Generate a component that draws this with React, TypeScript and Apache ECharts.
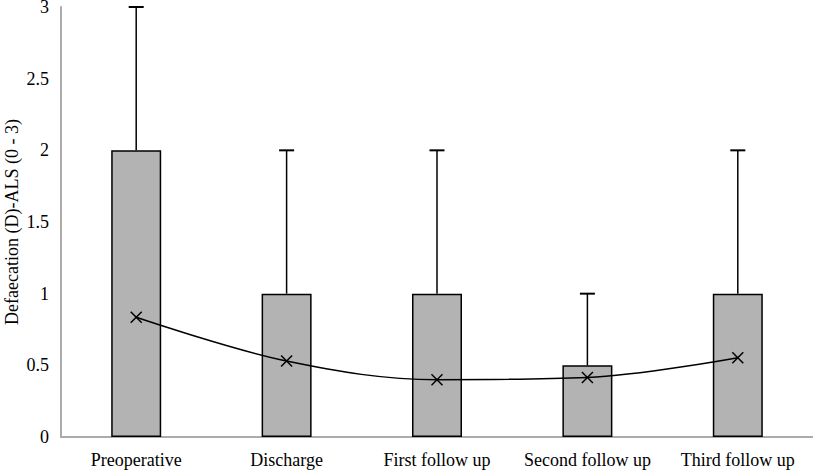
import React, { useEffect, useRef } from "react";
import * as echarts from "echarts";

const categories = ["Preoperative", "Discharge", "First follow up", "Second follow up", "Third follow up"];
const barValues = [2, 1, 1, 0.5, 1];
const errorUpper = [3, 2, 2, 1, 2];
const meanValues = [0.835, 0.53, 0.4, 0.415, 0.553];
const yTicks = { min: 0, max: 3, interval: 0.5 };

const FONT = "Liberation Serif";

export default function App() {
  const ref = useRef<HTMLDivElement>(null);
  useEffect(() => {
    if (!ref.current) return;
    const chart = echarts.init(ref.current, null, { renderer: "svg" });
    chart.setOption({
      animation: false,
      textStyle: { fontFamily: FONT },
      grid: { left: 61, right: 0, top: 7, bottom: 35, containLabel: false, outerBoundsMode: "none" },
      xAxis: {
        type: "category",
        data: categories,
        axisLine: { show: true, lineStyle: { color: "#ababab", width: 2 } },
        axisTick: { show: false },
        axisLabel: { color: "#000", fontFamily: FONT, fontSize: 18, margin: 14, interval: 0 },
      },
      yAxis: {
        type: "value",
        min: yTicks.min,
        max: yTicks.max,
        interval: yTicks.interval,
        name: "Defaecation (D)-ALS (0 - 3)",
        nameLocation: "middle",
        nameRotate: 90,
        nameGap: 40,
        nameMoveOverlap: false,
        nameTextStyle: { color: "#000", fontFamily: FONT, fontSize: 18 },
        axisLine: { show: true, lineStyle: { color: "#ababab", width: 2 } },
        axisTick: { show: false },
        splitLine: { show: false },
        axisLabel: { color: "#000", fontFamily: FONT, fontSize: 18, margin: 12 },
      },
      series: [
        {
          type: "bar",
          data: barValues,
          barWidth: 50,
          itemStyle: { color: "#b3b3b3", borderColor: "#000", borderWidth: 1.5 },
          z: 2,
        },
        {
          type: "custom",
          data: errorUpper.map((u, i) => [i, barValues[i], u]),
          renderItem: (params: any, api: any) => {
            const x = api.value(0);
            const low = api.coord([x, api.value(1)]);
            const high = api.coord([x, api.value(2)]);
            const half = 7.5;
            return {
              type: "group",
              children: [
                { type: "line", shape: { x1: low[0], y1: low[1], x2: high[0], y2: high[1] }, style: { stroke: "#000", lineWidth: 1.5 } },
                { type: "line", shape: { x1: high[0] - half, y1: high[1], x2: high[0] + half, y2: high[1] }, style: { stroke: "#000", lineWidth: 2 } },
              ],
            };
          },
          z: 3,
        },
        {
          type: "line",
          data: meanValues,
          smooth: 0.35,
          symbol: "none",
          lineStyle: { color: "#000", width: 1.5 },
          z: 4,
        },
        {
          type: "custom",
          data: meanValues.map((v, i) => [i, v]),
          renderItem: (params: any, api: any) => {
            const p = api.coord([api.value(0), api.value(1)]);
            const s = 5.5;
            return {
              type: "group",
              children: [
                { type: "line", shape: { x1: p[0] - s, y1: p[1] - s, x2: p[0] + s, y2: p[1] + s }, style: { stroke: "#000", lineWidth: 1.5 } },
                { type: "line", shape: { x1: p[0] - s, y1: p[1] + s, x2: p[0] + s, y2: p[1] - s }, style: { stroke: "#000", lineWidth: 1.5 } },
              ],
            };
          },
          z: 5,
        },
      ],
    });
    return () => chart.dispose();
  }, []);
  return <div ref={ref} style={{ width: 813, height: 472, position: "absolute", left: 0, top: 0 }} />;
}
